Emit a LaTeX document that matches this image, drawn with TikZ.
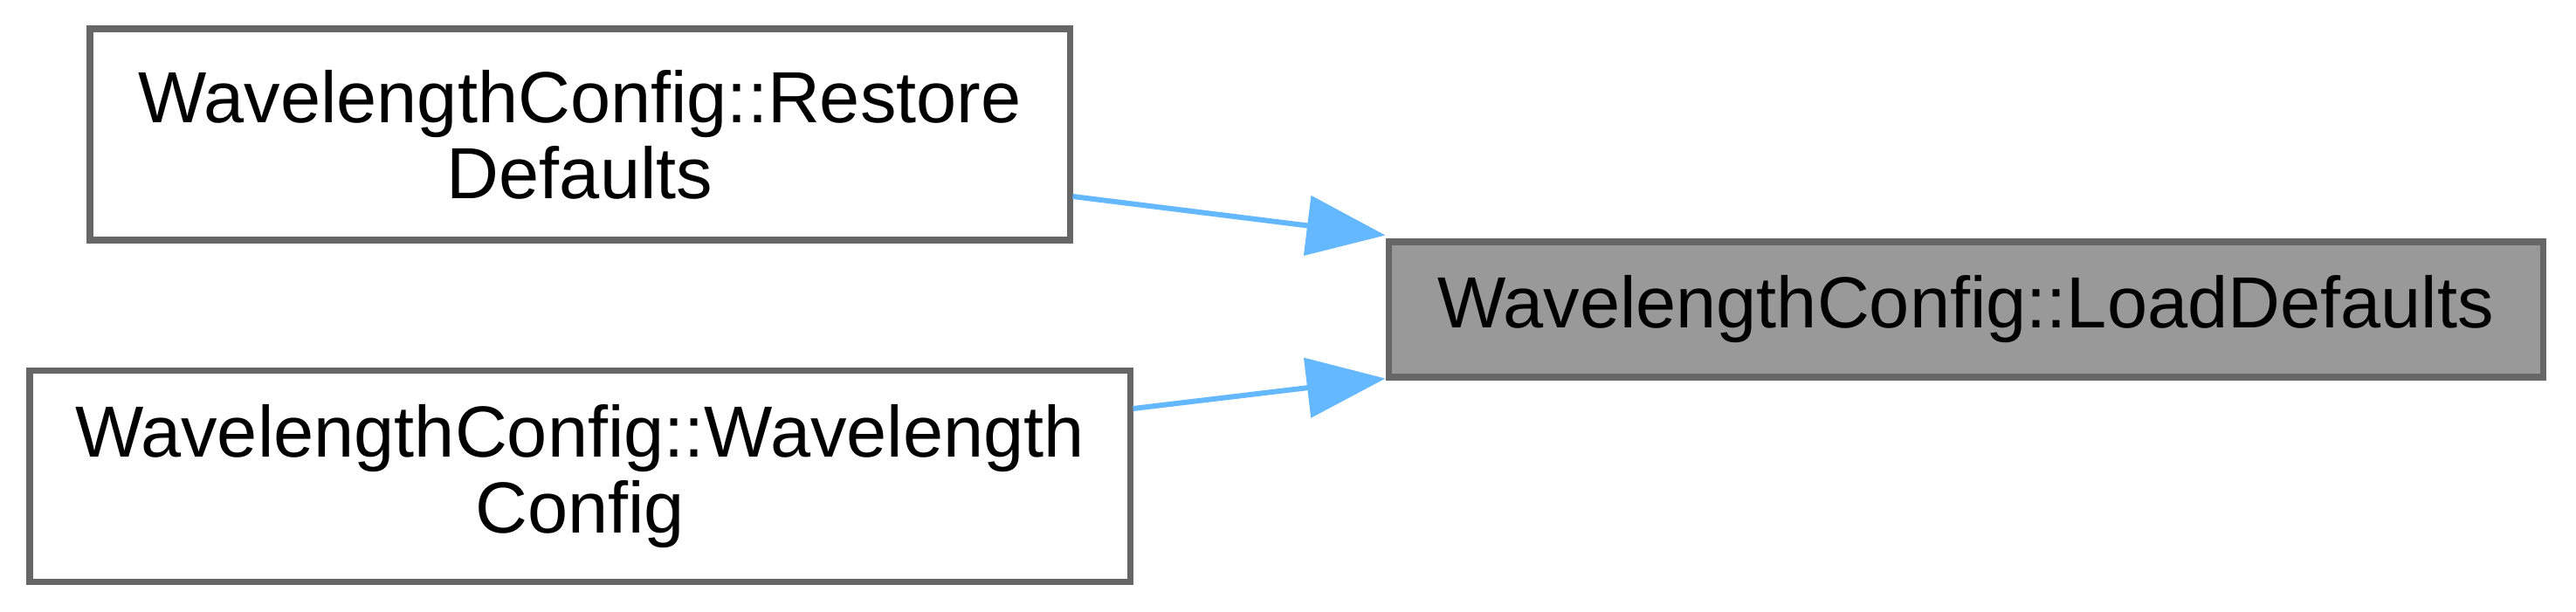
\documentclass[tikz,border=0pt]{standalone}
\usepackage{fontspec}
\setmainfont{Liberation Sans}
\usetikzlibrary{arrows.meta,positioning}
\definecolor{nodeStroke}{HTML}{666666}
\definecolor{focusFill}{HTML}{999999}
\definecolor{edgeStroke}{HTML}{63B8FF}
\begin{document}
\begin{tikzpicture}[
  font=\fontsize{23.6}{24.8}\selectfont,>={Triangle[length=0.9cm,width=0.68cm]},
  caller/.style={rectangle,draw=nodeStroke,line width=2pt,fill=white,inner sep=0pt,minimum height=2.42cm,align=center},
  focus/.style={rectangle,draw=nodeStroke,line width=2pt,fill=focusFill,inner sep=0pt,minimum width=13.22cm,minimum height=1.55cm,align=center},
  edge/.style={->,line width=1.7pt,draw=edgeStroke,fill=edgeStroke}
]
\useasboundingbox (0,0) rectangle (29.5,7);
% callers on the left, the called function on the right
\node[focus] (loaddefaults) at (22.51,3.455) {WavelengthConfig::LoadDefaults};
\node[caller,minimum width=11.22cm] (restoredefaults) at (6.64,5.46) {WavelengthConfig::Restore\\Defaults};
\node[caller,minimum width=12.6cm] (wavelengthconfig) at (6.64,1.545) {WavelengthConfig::Wavelength\\Config};
\draw[edge] ([yshift=-0.71cm]restoredefaults.east) -- ([yshift=0.04cm]loaddefaults.north west);
\draw[edge] ([yshift=0.775cm]wavelengthconfig.east) -- ([yshift=0.02cm]loaddefaults.south west);
\end{tikzpicture}
\end{document}
